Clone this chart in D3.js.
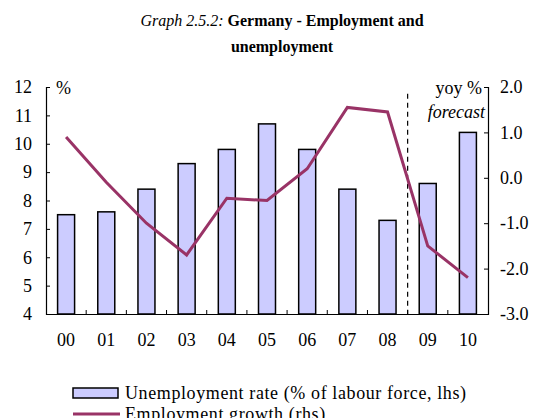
<!DOCTYPE html>
<html>
<head>
<meta charset="utf-8">
<script src="https://cdn.jsdelivr.net/npm/d3@7"></script>
<style>
body { margin: 0; background: #fff; }
text { font-family: "Liberation Serif", "Times New Roman", serif; }
</style>
</head>
<body>
<script>
var years = ["00", "01", "02", "03", "04", "05", "06", "07", "08", "09", "10"];
var unemployment = [7.5, 7.6, 8.4, 9.3, 9.8, 10.7, 9.8, 8.4, 7.3, 8.6, 10.4];
var employmentGrowth = [0.9, -0.1, -1.0, -1.7, -0.45, -0.5, 0.2, 1.55, 1.45, -1.5, -2.2];
var leftTicks = [4, 5, 6, 7, 8, 9, 10, 11, 12];
var rightTicks = [-3, -2, -1, 0, 1, 2];

var svgWidth = 537, svgHeight = 418;
var plotLeft = 46, plotRight = 488, plotTop = 87, plotBottom = 314;

var svg = d3.select("body").append("svg").attr("width", svgWidth).attr("height", svgHeight);

// title
var title = svg.append("text").attr("x", 282).attr("y", 26).attr("text-anchor", "middle").style("font-size", "16px");
title.append("tspan").style("font-style", "italic").text("Graph 2.5.2: ");
title.append("tspan").style("font-weight", "bold").text("Germany - Employment and");
svg.append("text").attr("x", 282).attr("y", 52).attr("text-anchor", "middle")
    .style("font-size", "16px").style("font-weight", "bold").text("unemployment");

var x = d3.scaleBand().domain(years).range([plotLeft, plotRight]).paddingInner(0).paddingOuter(0);
var yL = d3.scaleLinear().domain([4, 12]).range([plotBottom, plotTop]);
var yR = d3.scaleLinear().domain([-3, 2]).range([plotBottom, plotTop]);

var barW = 17;

// bars
svg.selectAll("rect.bar").data(unemployment).enter().append("rect")
    .attr("class", "bar")
    .attr("x", (d, i) => x(years[i]) + x.bandwidth() / 2 - barW / 2)
    .attr("y", d => yL(d))
    .attr("width", barW)
    .attr("height", d => plotBottom - yL(d))
    .attr("fill", "#ccccff")
    .attr("stroke", "#000")
    .attr("stroke-width", 1.5);

// forecast divider
var divX = (x("08") + x("09") + x.bandwidth()) / 2;
svg.append("line")
    .attr("x1", divX).attr("x2", divX)
    .attr("y1", yR(1.85)).attr("y2", plotBottom)
    .attr("stroke", "#000").attr("stroke-width", 1.2)
    .attr("stroke-dasharray", "5,4");

// left axis
var axL = svg.append("g").attr("transform", "translate(" + plotLeft + ",0)")
    .call(d3.axisLeft(yL).tickValues(leftTicks).tickSize(-4).tickPadding(14).tickFormat(d3.format("d")));
axL.selectAll("text").style("font-size", "18px").attr("fill", "#000");

// right axis (plain hyphen minus like the original)
var fmtR = d => d3.format(".1f")(d).replace("\u2212", "-");
var axR = svg.append("g").attr("transform", "translate(" + plotRight + ",0)")
    .call(d3.axisRight(yR).tickValues(rightTicks).tickSize(-4).tickPadding(12).tickFormat(fmtR));
axR.selectAll("text").style("font-size", "18px").attr("fill", "#000");

// bottom axis
var axB = svg.append("g").attr("transform", "translate(0," + plotBottom + ")")
    .call(d3.axisBottom(x).tickSize(0).tickPadding(19));
axB.selectAll("text").style("font-size", "18px").attr("fill", "#000");
svg.selectAll(".domain").attr("stroke", "#000").attr("stroke-width", 1.2);
svg.selectAll(".tick line").attr("stroke", "#000");

// minor ticks between categories
svg.append("g").selectAll("line").data(years.slice(1)).enter().append("line")
    .attr("x1", d => x(d)).attr("x2", d => x(d))
    .attr("y1", plotBottom).attr("y2", plotBottom - 4)
    .attr("stroke", "#000");

// employment line
var line = d3.line()
    .x((d, i) => x(years[i]) + x.bandwidth() / 2)
    .y(d => yR(d));
svg.append("path").datum(employmentGrowth)
    .attr("d", line)
    .attr("fill", "none")
    .attr("stroke", "#993366")
    .attr("stroke-width", 3);

// axis unit labels
svg.append("text").attr("x", 56).attr("y", 94).style("font-size", "18px").text("%");
svg.append("text").attr("x", 482).attr("y", 94).attr("text-anchor", "end").style("font-size", "18px").text("yoy %");
svg.append("text").attr("x", 485).attr("y", 118).attr("text-anchor", "end")
    .style("font-size", "18px").style("font-style", "italic").text("forecast");

// legend
svg.append("rect").attr("x", 73).attr("y", 388).attr("width", 45).attr("height", 10)
    .attr("fill", "#ccccff").attr("stroke", "#000").attr("stroke-width", 1.5);
svg.append("text").attr("x", 125).attr("y", 399).style("font-size", "18px").style("letter-spacing", "0.6px")
    .text("Unemployment rate (% of labour force, lhs)");
svg.append("line").attr("x1", 73).attr("x2", 120).attr("y1", 414).attr("y2", 414)
    .attr("stroke", "#993366").attr("stroke-width", 3);
svg.append("text").attr("x", 125).attr("y", 420).style("font-size", "18px").style("letter-spacing", "0.6px")
    .text("Employment growth (rhs)");
</script>
</body>
</html>
